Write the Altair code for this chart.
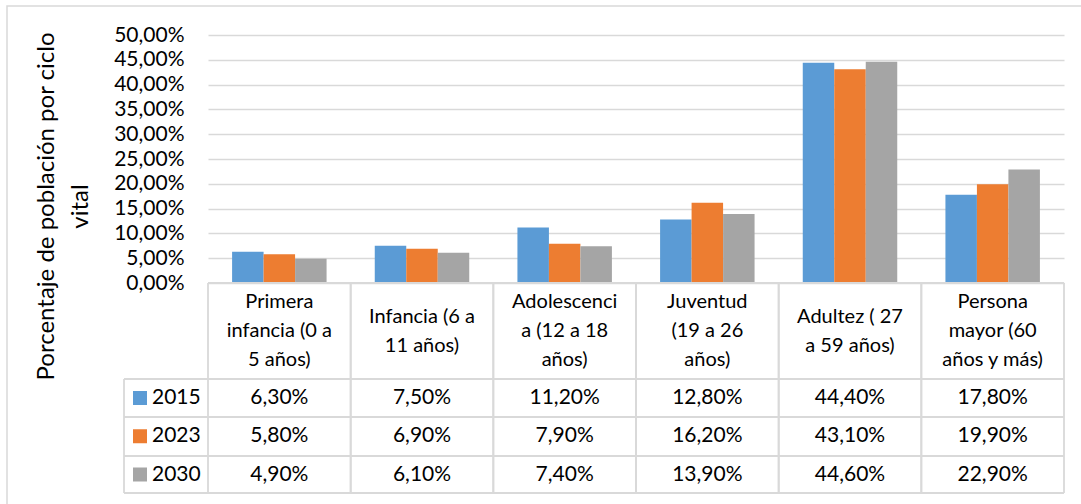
import altair as alt
import pandas as pd

# Life-cycle groups (line breaks as they appear in the table header)
categories = [
    "Primera\ninfancia (0 a\n5 años)",
    "Infancia (6 a\n11 años)",
    "Adolescenci\na (12 a 18\naños)",
    "Juventud\n(19 a 26\naños)",
    "Adultez ( 27\na 59 años)",
    "Persona\nmayor (60\naños y más)",
]
years = ["2015", "2023", "2030"]
share_2015 = [0.063, 0.075, 0.112, 0.128, 0.444, 0.178]
share_2023 = [0.058, 0.069, 0.079, 0.162, 0.431, 0.199]
share_2030 = [0.049, 0.061, 0.074, 0.139, 0.446, 0.229]
colors = ["#5B9BD5", "#ED7D31", "#A5A5A5"]
y_ticks = [0, 0.05, 0.10, 0.15, 0.20, 0.25, 0.30, 0.35, 0.40, 0.45, 0.50]

rows = []
for yr, series in zip(years, [share_2015, share_2023, share_2030]):
    for cat, v in zip(categories, series):
        rows.append({"cat": cat, "year": yr, "value": v})
df = pd.DataFrame(rows)
cat_df = pd.DataFrame({"cat": categories})
year_df = pd.DataFrame({"year": years})

FONT = "Lato"
GRID = "#D9D9D9"
W, H = 856, 248
# table geometry (pixels, relative to the plot area)
HEAD_BOTTOM = 344
ROW_LINES = [344, 382, 421, 458]
LEG_LEFT = -84
HEAD_MID = (H + HEAD_BOTTOM) / 2
LINE_H = 29

pct_expr = "replace(format(datum.value, '.2%'), '.', ',')"

x_enc = alt.X("cat:N", sort=categories,
              scale=alt.Scale(paddingInner=0, paddingOuter=0), axis=None)
color_enc = alt.Color("year:N", scale=alt.Scale(domain=years, range=colors),
                      legend=None)
row_y = alt.Y("year:N", scale=alt.Scale(domain=years, range=[363, 439.5], padding=0),
              axis=None)

bars = alt.Chart(df).mark_bar().encode(
    x=x_enc,
    xOffset=alt.XOffset("year:N", sort=years,
                        scale=alt.Scale(paddingInner=0, paddingOuter=0.765)),
    y=alt.Y("value:Q", scale=alt.Scale(domain=[0, 0.5], nice=False),
            axis=alt.Axis(
                values=y_ticks, labelExpr=pct_expr, domain=False, ticks=False,
                tickSize=0, labelPadding=24, labelFont=FONT, labelFontSize=21,
                labelColor="#000000", gridColor=GRID, gridWidth=1.6,
                title=["Porcentaje de población por ciclo", "vital"],
                titleFont=FONT, titleFontSize=24, titleFontWeight="normal",
                titleColor="#000000", titleAngle=270, titleAlign="center",
                titleBaseline="middle", titleLineHeight=34,
                titleX=-162, titleY=171,
            )),
    color=color_enc,
)


def header_layer(n_lines):
    # multi-line headers, vertically centred in the header row
    return alt.Chart(cat_df).transform_calculate(
        n="length(split(datum.cat, '\\n'))"
    ).transform_filter(f"datum.n == {n_lines}").mark_text(
        font=FONT, fontSize=20, lineBreak="\n", lineHeight=LINE_H,
        baseline="middle", align="center", color="#000000",
        dy=-(n_lines - 1) * LINE_H / 2,
    ).encode(x=x_enc, y=alt.value(HEAD_MID), text="cat:N")


cells = alt.Chart(df).transform_calculate(
    label=pct_expr
).mark_text(font=FONT, fontSize=21, baseline="middle", align="center",
            color="#000000").encode(x=x_enc, y=row_y, text="label:N")

swatch = alt.Chart(year_df).mark_square(size=196, opacity=1).encode(
    x=alt.value(LEG_LEFT + 16), y=row_y, color=color_enc)

leg_text = alt.Chart(year_df).mark_text(
    font=FONT, fontSize=21, baseline="middle", align="left", color="#000000"
).encode(x=alt.value(LEG_LEFT + 28), y=row_y, text="year:N")

vlines_left = alt.Chart(cat_df).mark_rule(color=GRID, strokeWidth=1.8).encode(
    x=alt.X("cat:N", sort=categories, bandPosition=0,
            scale=alt.Scale(paddingInner=0, paddingOuter=0), axis=None),
    y=alt.value(H), y2=alt.value(ROW_LINES[-1]))
vlines_right = alt.Chart(cat_df).mark_rule(color=GRID, strokeWidth=1.8).encode(
    x=alt.X("cat:N", sort=categories, bandPosition=1,
            scale=alt.Scale(paddingInner=0, paddingOuter=0), axis=None),
    y=alt.value(H), y2=alt.value(ROW_LINES[-1]))

hline_top = alt.Chart(cat_df.head(1)).mark_rule(color=GRID, strokeWidth=1.8).encode(
    x=alt.value(0), x2=alt.value(W), y=alt.value(H))
hlines = [
    alt.Chart(cat_df.head(1)).mark_rule(color=GRID, strokeWidth=1.8).encode(
        x=alt.value(LEG_LEFT), x2=alt.value(W), y=alt.value(yy))
    for yy in ROW_LINES
]
leg_left_line = alt.Chart(cat_df.head(1)).mark_rule(color=GRID, strokeWidth=1.8).encode(
    x=alt.value(LEG_LEFT), y=alt.value(HEAD_BOTTOM), y2=alt.value(ROW_LINES[-1]))

frame = alt.Chart(cat_df.head(1)).mark_rect(
    fill=None, stroke=GRID, strokeWidth=1.5).encode(
    x=alt.value(7 - 208), x2=alt.value(1100 - 208),
    y=alt.value(6 - 35), y2=alt.value(520))

chart = alt.layer(
    frame, bars, vlines_left, vlines_right, hline_top, *hlines, leg_left_line,
    header_layer(3), header_layer(2), cells, swatch, leg_text,
).resolve_scale(y="independent").properties(
    width=W, height=H,
    autosize=alt.AutoSizeParams(type="none"),
    padding={"left": 208, "top": 35, "right": 17, "bottom": 221},
    background="white",
).configure_view(stroke=None)

chart.save("out.html", embed_options={"renderer": "svg", "actions": False})
